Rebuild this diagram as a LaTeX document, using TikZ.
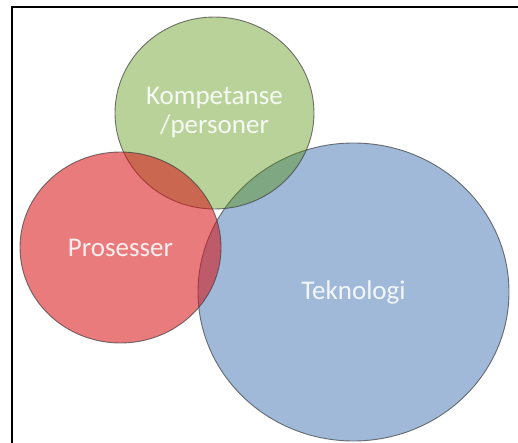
\documentclass[tikz,border=0pt]{standalone}
\usepackage{fontspec}
\setmainfont{Carlito}
\usetikzlibrary{shapes.geometric}

\definecolor{greenbase}{RGB}{80,142,3}
\definecolor{redbase}{RGB}{215,15,19}
\definecolor{bluebase}{RGB}{65,115,177}
\definecolor{ringline}{RGB}{60,60,60}

\tikzset{
  setcircle/.style={ellipse, inner sep=0pt, draw=ringline, draw opacity=0.7,
    line width=0.9pt, text=white, text opacity=0.88, align=center,
    font=\fontsize{27}{29}\selectfont},
}

\begin{document}
\begin{tikzpicture}[x=1pt, y=-1pt]
  \useasboundingbox (0,0) rectangle (518,443);

  % frame: left and top edges only
  \draw[line width=1.9pt, black] (12,443) -- (12,7) -- (518,7);

  % overlapping sets, back to front
  \node[setcircle, fill=bluebase, fill opacity=0.5,
        minimum width=311pt, minimum height=298pt] (tek) at (353.5,292) {Teknologi};
  \node[setcircle, fill=greenbase, fill opacity=0.4,
        minimum width=199pt, minimum height=192pt] (komp) at (214.5,113) {Kompetanse\\/personer};
  \node[setcircle, fill=redbase, fill opacity=0.55,
        minimum width=201pt, minimum height=191pt] (pros) at (120.5,247.5) {Prosesser};
\end{tikzpicture}
\end{document}
